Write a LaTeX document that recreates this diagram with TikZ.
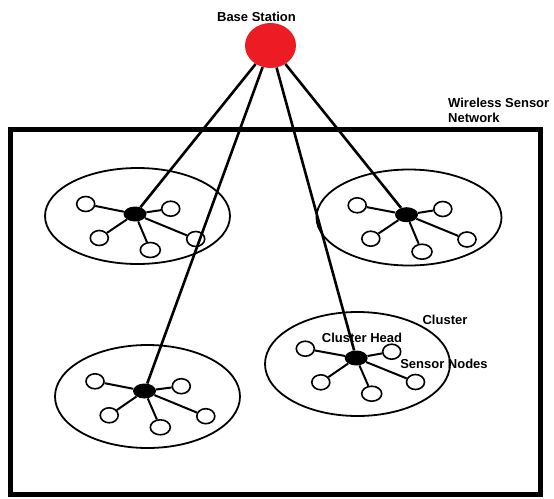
\documentclass[tikz,border=0pt]{standalone}
\usepackage{fontspec}
\setmainfont{Liberation Sans}
\usepackage{tikz}
\usepackage{xcolor}
\usetikzlibrary{positioning,shapes.geometric}
\definecolor{bsred}{HTML}{ED1C24}

\begin{document}
\begin{tikzpicture}[
  x=1pt, y=-1pt,
  station/.style={ellipse, fill=bsred, minimum width=51pt, minimum height=45pt, inner sep=0pt},
  frame/.style={draw, line width=5pt, minimum width=529.5pt, minimum height=365pt, inner sep=0pt},
  cluster/.style={draw, ellipse, line width=1.8pt, minimum width=185pt, minimum height=96pt, inner sep=0pt},
  head/.style={ellipse, fill=black, minimum width=23pt, minimum height=15pt, inner sep=0pt},
  sensor/.style={draw, ellipse, line width=1.6pt, minimum width=18pt, minimum height=15pt, inner sep=0pt},
  spoke/.style={line width=2pt},
  link/.style={line width=2.6pt},
  lbl/.style={font=\fontsize{13}{15}\selectfont\bfseries, inner sep=0pt}
]
\useasboundingbox (0,0) rectangle (554,498);

% network boundary
\node[frame] (wsn) at (275.25,312) {};
\node[lbl, anchor=base west] (wsnlbl) at (448,107) {Wireless Sensor};
\node[lbl, anchor=base west] (wsnlbl2) at (448,122) {Network};

% base station
\node[station] (bs) at (270.5,45.5) {};
\node[lbl, anchor=base] (bslbl) at (256.5,21) {Base Station};

% clusters
\node[cluster] (cl1) at (137.5,216) {};
\node[cluster] (cl2) at (409,217.5) {};
\node[cluster, minimum height=103pt] (cl3) at (147.5,396.5) {};
\node[cluster, minimum height=104pt] (cl4) at (357.5,364) {};

% cluster heads
\node[head] (ch1) at (135,214) {};
\node[head] (ch2) at (406.5,214.7) {};
\node[head] (ch3) at (144.5,391) {};
\node[head] (ch4) at (356.2,358) {};

% sensor nodes
\node[sensor] (s11) at (85.7,204) {};
\node[sensor] (s12) at (170.7,208.7) {};
\node[sensor] (s13) at (99.3,238) {};
\node[sensor, minimum width=20pt] (s14) at (150.3,250) {};
\node[sensor] (s15) at (195.7,239) {};

\node[sensor] (s21) at (357.2,205.3) {};
\node[sensor] (s22) at (442.8,209) {};
\node[sensor] (s23) at (370.8,238.7) {};
\node[sensor, minimum width=20pt] (s24) at (422,251.7) {};
\node[sensor] (s25) at (467,239.5) {};

\node[sensor] (s31) at (95,381.3) {};
\node[sensor] (s32) at (181.3,386.2) {};
\node[sensor] (s33) at (109.2,415.3) {};
\node[sensor, minimum width=20pt] (s34) at (160.3,427.3) {};
\node[sensor] (s35) at (205.8,416.2) {};

\node[sensor] (s41) at (305.3,348.7) {};
\node[sensor] (s42) at (391.7,351.7) {};
\node[sensor] (s43) at (320.8,382.3) {};
\node[sensor, minimum width=20pt] (s44) at (371.7,393.7) {};
\node[sensor] (s45) at (415.5,382) {};

% labels
\node[lbl, anchor=base] (cllbl) at (445,324) {Cluster};
\node[lbl, anchor=base] (chlbl) at (362,342) {Cluster Head};
\node[lbl, anchor=base] (snlbl) at (444,368) {Sensor Nodes};

% links to base station
\draw[link] (bs) -- (ch1);
\draw[link] (bs) -- (ch3);
\draw[link] (bs) -- (ch4);
\draw[link] (bs) -- (ch2);

% spokes
\draw[spoke] (ch1) -- (s11);
\draw[spoke] (ch1) -- (s12);
\draw[spoke] (ch1) -- (s13);
\draw[spoke] (ch1) -- (s14);
\draw[spoke] (ch1) -- (s15);
\draw[spoke] (ch2) -- (s21);
\draw[spoke] (ch2) -- (s22);
\draw[spoke] (ch2) -- (s23);
\draw[spoke] (ch2) -- (s24);
\draw[spoke] (ch2) -- (s25);
\draw[spoke] (ch3) -- (s31);
\draw[spoke] (ch3) -- (s32);
\draw[spoke] (ch3) -- (s33);
\draw[spoke] (ch3) -- (s34);
\draw[spoke] (ch3) -- (s35);
\draw[spoke] (ch4) -- (s41);
\draw[spoke] (ch4) -- (s42);
\draw[spoke] (ch4) -- (s43);
\draw[spoke] (ch4) -- (s44);
\draw[spoke] (ch4) -- (s45);
\end{tikzpicture}
\end{document}
